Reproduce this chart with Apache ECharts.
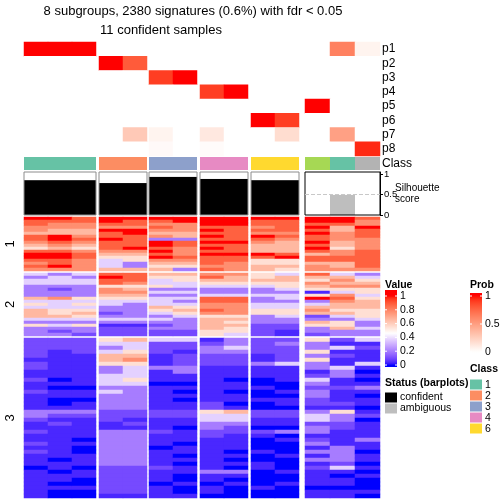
<!DOCTYPE html>
<html><head><meta charset="utf-8">
<script src="https://cdn.jsdelivr.net/npm/echarts@6/dist/echarts.min.js"></script>
<style>html,body{margin:0;padding:0;background:#fff}#c{width:504px;height:504px}</style>
</head><body><div id="c"></div>
<script>
// ---------------- data ----------------
const titleMain = '8 subgroups, 2380 signatures (0.6%) with fdr < 0.05';
const titleSub = '11 confident samples';
const groupSizes = [3, 2, 2, 2, 2, 3];
const sampleClass = ['1','1','1','2','2','3','3','4','4','6','6','5','1','NA'];
const sampleStatus = ['confident','confident','confident','confident','confident','confident','confident','confident','confident','confident','confident','ambiguous','ambiguous','ambiguous'];
const silhouette = [0.85,0.85,0.85,0.78,0.78,0.93,0.93,0.88,0.88,0.85,0.85,0.00,0.49,0.00];
const probRowNames = ['p1','p2','p3','p4','p5','p6','p7','p8'];
const probP1 = [1,1,1,0,0,0,0,0,0,0,0,0,0.64,0.06];
const probP2 = [0,0,0,1,0.8,0,0,0,0,0,0,0,0,0];
const probP3 = [0,0,0,0,0,0.9,1,0,0,0,0,0,0,0];
const probP4 = [0,0,0,0,0,0,0,0.9,1,0,0,0,0,0];
const probP5 = [0,0,0,0,0,0,0,0,0,0,0,1,0,0];
const probP6 = [0,0,0,0,0,0,0,0,0,1,0.9,0,0,0];
const probP7 = [0,0,0,0,0.28,0.06,0,0.12,0,0,0.18,0,0.49,0];
const probP8 = [0,0,0,0,0,0.03,0,0.02,0,0,0,0,0,0.95];
const probRows = [probP1,probP2,probP3,probP4,probP5,probP6,probP7,probP8];
const rowGroupLabels = ['1','2','3'];
// heatmap values: one string per sample column, one digit per row (codebook below)
const digitValue = [0, 0.04, 0.1, 0.2, 0.37, 0.55, 0.66, 0.77, 0.88, 1];
const rowGroup1 = [
 '988776887658998787','987766998768998897','887766787657887777',
 '998798898887654446','988799888897655336',
 '987876739989897656','997776638877787653',
 '999898989898988878','999888889888988777',
 '988787987666985566','988887876666895565',
 '998989889898688677','998667776657788667','877988877778888887'];
const rowGroup2 = [
 '434433336454666435333','344432337444556434323','434433335454565435332',
 '898857765443323431222','888756765433333431222',
 '654453434446543432322','655443434345654333322',
 '786543348877875666655','766543348877775656554',
 '556543343344553332222','466554344344554332211',
 '865765159346762365332','467675478766564355633','345675545666555433433'];
const rowGroup3 = [
 '2222212211211211113321121121211101111111','2221111111010110013212111111110110110100','2222111111110110113211111010011101100100',
 '5434665334443433332221133333333322222221','6445675444543333332212133333333322222221',
 '4222111311101111112211121110111121110111','4221222331101010112211011101101011001001',
 '1233222111111111225443322111111113110110','3343222111011011016443221111010103101000',
 '2222113111001001002211021000100110000100','2322224111100101102211030100010001001000',
 '5335353312432332213442331231313121111011','2141211433112111215332211113333241011011','4121114101013101101201111311011010100010'];
const valueTicks = [0, 0.2, 0.4, 0.6, 0.8, 1];
const probTicks = [0, 0.5, 1];
const silTicks = [0, 0.5, 1];
const classLegend = ['1','2','3','4','6'];
const statusLegend = ['confident','ambiguous'];

// ---------------- style / layout ----------------
const FONT = '"Liberation Sans", Arial, Helvetica, sans-serif';
const groupX = [[24,96],[99,147],[149,197],[200,248],[251,299],[305,380]];
const rowGroupY = [[217,54],[273,63],[338,160]];
const classColor = {'1':'#66C2A5','2':'#FC8D62','3':'#8DA0CB','4':'#E78AC3','5':'#A6D854','6':'#FFD92F','NA':'#B3B3B3'};
const statusColor = {confident:'#000000', ambiguous:'#BEBEBE'};
const whitePoint = 0.46;

function toLin(c){c/=255;return c<=0.04045?c/12.92:Math.pow((c+0.055)/1.055,2.4);}
function toSrgb(c){c=Math.min(1,Math.max(0,c));return Math.round(255*(c<=0.0031308?12.92*c:1.055*Math.pow(c,1/2.4)-0.055));}
function hexToRgb(h){return [parseInt(h.slice(1,3),16),parseInt(h.slice(3,5),16),parseInt(h.slice(5,7),16)];}
const Xn=0.95047,Zn=1.08883;
function fl(t){return t>0.008856?Math.cbrt(t):7.787*t+16/116;}
function finv(t){const t3=t*t*t;return t3>0.008856?t3:(t-16/116)/7.787;}
function toLab(h){const [r,g,b]=hexToRgb(h).map(toLin);const X=(0.4124*r+0.3576*g+0.1805*b)/Xn,Y=(0.2126*r+0.7152*g+0.0722*b),Z=(0.0193*r+0.1192*g+0.9505*b)/Zn;const fx=fl(X),fy=fl(Y),fz=fl(Z);return [116*fy-16,500*(fx-fy),200*(fy-fz)];}
function fromLab(L,a,b){const fy=(L+16)/116,fx=fy+a/500,fz=fy-b/200;const X=Xn*finv(fx),Y=finv(fy),Z=Zn*finv(fz);
 const r=3.2406*X-1.5372*Y-0.4986*Z,g=-0.9689*X+1.8758*Y+0.0415*Z,bb=0.0557*X-0.2040*Y+1.0570*Z;return 'rgb('+toSrgb(r)+','+toSrgb(g)+','+toSrgb(bb)+')';}
function labMix(h1,h2,t){const a=toLab(h1),b=toLab(h2);return fromLab(a[0]+(b[0]-a[0])*t,a[1]+(b[1]-a[1])*t,a[2]+(b[2]-a[2])*t);}
function valueColor(v){v=Math.min(1,Math.max(0,v));return v<=whitePoint?labMix('#0000FF','#FFFFFF',v/whitePoint):labMix('#FFFFFF','#FF0000',(v-whitePoint)/(1-whitePoint));}
function probColor(v){v=Math.min(1,Math.max(0,v));return labMix('#FFFFFF','#FF0000',v);}
const valueStops=[];for(let i=0;i<=100;i++)valueStops.push(valueColor(i/100));
const probStops=[];for(let i=0;i<=50;i++)probStops.push(probColor(i/50));

// ---------------- build option ----------------
const grids=[], xAxes=[], yAxes=[], series=[], hmIdx=[], probIdx=[];
const rowGroups=[rowGroup1,rowGroup2,rowGroup3];
function addGrid(left,right,top,height,extra){grids.push(Object.assign({left:left,top:top,width:right-left,height:height},extra||{}));return grids.length-1;}
let c0=0;
groupSizes.forEach(function(n,g){
  const cols=[];for(let j=0;j<n;j++)cols.push(c0+j);
  const [x0,x1]=groupX[g];
  let gi=addGrid(x0,x1,42,114);
  xAxes.push({gridIndex:gi,type:'category',data:cols.map(String),show:false});
  yAxes.push({gridIndex:gi,type:'category',data:probRowNames,inverse:true,show:false});
  const pd=[];probRows.forEach(function(row,r){cols.forEach(function(c,j){pd.push([j,r,row[c]]);});});
  series.push({type:'heatmap',xAxisIndex:gi,yAxisIndex:gi,data:pd,progressive:0,emphasis:{disabled:true},silent:true});
  probIdx.push(series.length-1);
  gi=addGrid(x0,x1,157,13);
  xAxes.push({gridIndex:gi,type:'category',data:cols.map(String),show:false});
  yAxes.push({gridIndex:gi,type:'value',min:0,max:1,show:false});
  series.push({type:'bar',xAxisIndex:gi,yAxisIndex:gi,barWidth:'100%',silent:true,
    data:cols.map(function(c){return {value:1,itemStyle:{color:classColor[sampleClass[c]]}};})});
  const last=(g===groupSizes.length-1);
  gi=addGrid(x0,x1,172,43,{show:true,borderColor:last?'#000':'#8c8c8c',borderWidth:1,z:5,backgroundColor:'rgba(0,0,0,0)'});
  xAxes.push({gridIndex:gi,type:'category',data:cols.map(String),show:false});
  yAxes.push(last?{gridIndex:gi,type:'value',min:0,max:1.05,position:'right',show:true,
      splitLine:{show:false},axisLine:{show:true,lineStyle:{color:'#000',width:1}},
      axisTick:{show:true,length:3,customValues:silTicks,lineStyle:{color:'#000'}},
      axisLabel:{customValues:silTicks,fontSize:9.5,margin:4,color:'#000',fontFamily:FONT,formatter:function(v){return String(v);}}}
    :{gridIndex:gi,type:'value',min:0,max:1.05,show:false});
  const sb={type:'bar',xAxisIndex:gi,yAxisIndex:gi,barWidth:'100%',silent:true,
    data:cols.map(function(c){return {value:silhouette[c],itemStyle:{color:statusColor[sampleStatus[c]]}};})};
  if(last){sb.markLine={silent:true,symbol:'none',label:{show:false},lineStyle:{type:'dashed',color:'#c8c8c8',width:1},data:[{yAxis:0.5}]};}
  series.push(sb);
  rowGroups.forEach(function(rg,k){
    const [yt,h]=rowGroupY[k];
    const gi2=addGrid(x0,x1,yt,h);
    const nRows=rg[0].length;const rows=[];for(let r=0;r<nRows;r++)rows.push(String(r));
    xAxes.push({gridIndex:gi2,type:'category',data:cols.map(String),show:false});
    yAxes.push({gridIndex:gi2,type:'category',data:rows,inverse:true,show:false});
    const d=[];cols.forEach(function(c,j){const s=rg[c];for(let r=0;r<s.length;r++)d.push([j,r,digitValue[+s[r]]]);});
    series.push({type:'heatmap',xAxisIndex:gi2,yAxisIndex:gi2,data:d,progressive:0,emphasis:{disabled:true},silent:true});
    hmIdx.push(series.length-1);
  });
  c0+=n;
});

// ---------------- graphics (titles, labels, legends) ----------------
const G=[];
function txt(s,x,y,o){o=o||{};G.push({type:'text',x:x,y:y,rotation:o.rot||0,silent:true,z:10,
  style:{text:s,x:0,y:0,fill:'#000',font:(o.weight||'normal')+' '+(o.size||10.5)+'px '+FONT,
  textAlign:o.align||'left',align:o.align||'left',textVerticalAlign:'middle',verticalAlign:'middle'}});}
txt(titleMain,193,11,{size:13,align:'center'});
txt(titleSub,161,30,{size:13,align:'center'});
probRowNames.forEach(function(p,i){txt(p,382,42+114/8*(i+0.5),{size:12});});
txt('Class',382,163.5,{size:12});
txt('Silhouette',395,188,{size:10});
txt('score',395,199,{size:10});
rowGroupLabels.forEach(function(l,k){const [yt,h]=rowGroupY[k];txt(l,10.5,yt+h/2,{size:13,align:'center',rot:Math.PI/2});});
txt('Value',385,285,{weight:'bold'});
(function(){const top=290,h=77,y0=365,span=69;const st=[];
  for(let i=0;i<=50;i++){const y=top+h*i/50;const v=(y0-y)/span;st.push({offset:i/50,color:valueColor(v)});}
  G.push({type:'rect',silent:true,shape:{x:385,y:top,width:12,height:h},style:{fill:new echarts.graphic.LinearGradient(0,0,0,1,st)}});
  valueTicks.forEach(function(v){const y=y0-span*v;txt(String(v),400,y);
    G.push({type:'line',silent:true,shape:{x1:385,y1:y,x2:387,y2:y},style:{stroke:'#fff',lineWidth:1}});
    G.push({type:'line',silent:true,shape:{x1:395,y1:y,x2:397,y2:y},style:{stroke:'#fff',lineWidth:1}});});
})();
txt('Prob',470,285,{weight:'bold'});
(function(){const top=293,h=60,y0=352,span=56;const st=[];
  for(let i=0;i<=30;i++){const y=top+h*i/30;const v=(y0-y)/span;st.push({offset:i/30,color:probColor(v)});}
  G.push({type:'rect',silent:true,shape:{x:470,y:top,width:12,height:h},style:{fill:new echarts.graphic.LinearGradient(0,0,0,1,st)}});
  probTicks.forEach(function(v){const y=y0-span*v;txt(String(v),485,y);
    G.push({type:'line',silent:true,shape:{x1:470,y1:y,x2:472,y2:y},style:{stroke:'#fff',lineWidth:1}});
    G.push({type:'line',silent:true,shape:{x1:480,y1:y,x2:482,y2:y},style:{stroke:'#fff',lineWidth:1}});});
})();
txt('Status (barplots)',385,383,{weight:'bold'});
statusLegend.forEach(function(s,i){const y=392.5+11*i;
  G.push({type:'rect',silent:true,shape:{x:385,y:y,width:12,height:10},style:{fill:statusColor[s]}});
  txt(s,400,y+5);});
txt('Class',470,369,{weight:'bold'});
classLegend.forEach(function(c,i){const y=379.5+11*i;
  G.push({type:'rect',silent:true,shape:{x:470,y:y,width:12,height:10},style:{fill:classColor[c]}});
  txt(c,485,y+5.5);});

const option={
  animation:false,
  backgroundColor:'#ffffff',
  textStyle:{fontFamily:FONT},
  grid:grids, xAxis:xAxes, yAxis:yAxes, series:series,
  visualMap:[
    {type:'continuous',show:false,min:0,max:1,dimension:2,seriesIndex:hmIdx,inRange:{color:valueStops}},
    {type:'continuous',show:false,min:0,max:1,dimension:2,seriesIndex:probIdx,inRange:{color:probStops}}
  ],
  graphic:{elements:G}
};
const chart=echarts.init(document.getElementById('c'));
chart.setOption(option);
</script></body></html>
